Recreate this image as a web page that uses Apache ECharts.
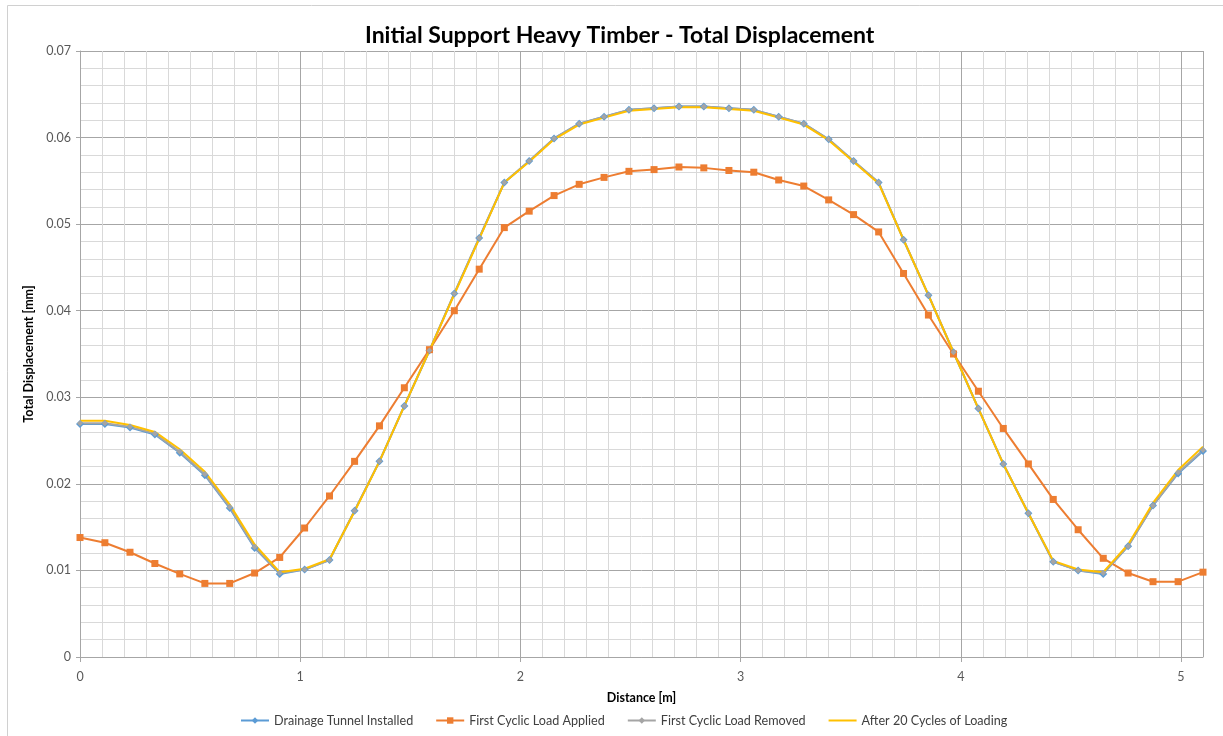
<!DOCTYPE html>
<html>
<head>
<meta charset="utf-8">
<script src="https://cdn.jsdelivr.net/npm/echarts@6/dist/echarts.min.js"></script>
<style>
  html, body { margin: 0; padding: 0; background: #fff; }
  #chart { width: 1223px; height: 736px; }
</style>
</head>
<body>
<div id="chart"></div>
<script>
// distance [m]
const distance = [
  0, 0.113, 0.227, 0.340, 0.453, 0.567, 0.680, 0.793, 0.907, 1.020,
  1.133, 1.247, 1.360, 1.473, 1.587, 1.700, 1.813, 1.927, 2.040, 2.153,
  2.267, 2.380, 2.493, 2.607, 2.720, 2.833, 2.947, 3.060, 3.173, 3.287,
  3.400, 3.513, 3.627, 3.740, 3.853, 3.967, 4.080, 4.193, 4.307, 4.420,
  4.533, 4.647, 4.760, 4.873, 4.987, 5.100
]

const seriesNames = [
  'Drainage Tunnel Installed',
  'First Cyclic Load Applied',
  'First Cyclic Load Removed',
  'After 20 Cycles of Loading'
]

const drainageInstalled = [
  0.0269, 0.0269, 0.0265, 0.0257, 0.0236, 0.0210, 0.0172, 0.0126, 0.0096, 0.0101,
  0.0112, 0.0169, 0.0226, 0.0290, 0.0354, 0.0420, 0.0484, 0.0548, 0.0573, 0.0599,
  0.0616, 0.0624, 0.0632, 0.0634, 0.0636, 0.0636, 0.0634, 0.0632, 0.0624, 0.0616,
  0.0598, 0.0573, 0.0548, 0.0482, 0.0418, 0.0352, 0.0287, 0.0223, 0.0166, 0.0110,
  0.0100, 0.0096, 0.0128, 0.0175, 0.0212, 0.0238
]

const loadApplied = [
  0.0138, 0.0132, 0.0121, 0.0108, 0.0096, 0.0085, 0.0085, 0.0097, 0.0115, 0.0149,
  0.0186, 0.0226, 0.0267, 0.0311, 0.0355, 0.0400, 0.0448, 0.0496, 0.0515, 0.0533,
  0.0546, 0.0554, 0.0561, 0.0563, 0.0566, 0.0565, 0.0562, 0.0560, 0.0551, 0.0544,
  0.0528, 0.0511, 0.0491, 0.0443, 0.0395, 0.0350, 0.0307, 0.0264, 0.0223, 0.0182,
  0.0147, 0.0114, 0.0097, 0.0087, 0.0087, 0.0098
]

const loadRemoved = [
  0.0270, 0.0270, 0.0266, 0.0258, 0.0237, 0.0211, 0.0173, 0.0127, 0.0097, 0.0101,
  0.0112, 0.0169, 0.0226, 0.0290, 0.0354, 0.0420, 0.0484, 0.0548, 0.0573, 0.0599,
  0.0616, 0.0624, 0.0632, 0.0634, 0.0636, 0.0636, 0.0634, 0.0632, 0.0624, 0.0616,
  0.0598, 0.0573, 0.0548, 0.0482, 0.0418, 0.0352, 0.0287, 0.0223, 0.0166, 0.0110,
  0.0100, 0.0097, 0.0128, 0.0175, 0.0213, 0.0239
]

const after20Cycles = [
  0.0273, 0.0273, 0.0268, 0.0260, 0.0240, 0.0214, 0.0176, 0.0130, 0.0098, 0.0102,
  0.0113, 0.0168, 0.0226, 0.0290, 0.0354, 0.0419, 0.0483, 0.0548, 0.0572, 0.0598,
  0.0615, 0.0623, 0.0631, 0.0633, 0.0635, 0.0635, 0.0633, 0.0631, 0.0623, 0.0615,
  0.0597, 0.0572, 0.0547, 0.0482, 0.0418, 0.0352, 0.0287, 0.0223, 0.0166, 0.0111,
  0.0101, 0.0098, 0.0130, 0.0178, 0.0216, 0.0243
]

const colors = ['#5B9BD5', '#ED7D31', '#A5A5A5', '#FFC000']
const font = 'Lato, "Liberation Sans", sans-serif'

const pairs = ys => distance.map((x, i) => [x, ys[i]])

const chart = echarts.init(document.getElementById('chart'))

chart.setOption({
  backgroundColor: '#fff',
  animation: false,
  textStyle: { fontFamily: font },
  color: colors,
  title: {
    text: 'Initial Support Heavy Timber - Total Displacement',
    left: 360, top: 19,
    textStyle: { fontSize: 23, fontWeight: 'bold', color: '#000', fontFamily: font }
  },
  graphic: [{
    type: 'rect', silent: true, z: -10,
    shape: { x: 7.5, y: 5.5, width: 1300, height: 800 },
    style: { fill: 'none', stroke: '#d0d0d0', lineWidth: 1 }
  }],
  legend: {
    data: [
      seriesNames[0], seriesNames[1], seriesNames[2],
      { name: seriesNames[3], itemStyle: { opacity: 0 } }
    ],
    left: 235, top: 709,
    itemWidth: 28, itemHeight: 8, itemGap: 22,
    textStyle: { fontSize: 12.6, color: '#404040', fontFamily: font }
  },
  grid: { left: 80, right: 20, top: 51, bottom: 79, containLabel: false },
  xAxis: [{
    // minor grid (0.1 m)
    type: 'value', position: 'top',
    min: 0, max: 5.1, interval: 0.1,
    axisLine: { show: false }, axisTick: { show: false }, axisLabel: { show: false },
    splitLine: { show: true, lineStyle: { color: '#d9d9d9', width: 1 } }
  }, {
    type: 'value', position: 'bottom',
    min: 0, max: 5.1, interval: 1,
    name: 'Distance [m]', nameLocation: 'middle', nameGap: 34,
    nameTextStyle: { fontSize: 12.5, fontWeight: 'bold', color: '#000', fontFamily: font },
    axisLine: { show: true, onZero: false, lineStyle: { color: '#a6a6a6' } },
    axisTick: { show: true, length: 5, lineStyle: { color: '#a6a6a6' } },
    axisLabel: { fontSize: 12.5, color: '#595959', margin: 13, showMaxLabel: false },
    splitLine: { show: true, lineStyle: { color: '#a6a6a6', width: 1 } }
  }],
  yAxis: {
    type: 'value', min: 0, max: 0.07, interval: 0.01,
    name: 'Total Displacement [mm]', nameLocation: 'middle', nameGap: 42, nameRotate: 90,
    nameTextStyle: { fontSize: 12.5, fontWeight: 'bold', color: '#000', fontFamily: font },
    axisLine: { show: true, lineStyle: { color: '#a6a6a6' } },
    axisTick: { show: true, length: 4, lineStyle: { color: '#a6a6a6' } },
    axisLabel: { fontSize: 12.5, color: '#595959', margin: 9, formatter: v => v === 0 ? '0' : v.toFixed(2) },
    splitLine: { show: true, lineStyle: { color: '#a6a6a6', width: 1 } },
    minorTick: { show: false, splitNumber: 5 },
    minorSplitLine: { show: true, lineStyle: { color: '#d9d9d9', width: 1 } }
  },
  series: [{
    name: seriesNames[0], type: 'line', xAxisIndex: 1,
    data: pairs(drainageInstalled),
    symbol: 'diamond', symbolSize: 8,
    lineStyle: { width: 2, color: colors[0] },
    itemStyle: { color: colors[0] }
  }, {
    name: seriesNames[1], type: 'line', xAxisIndex: 1,
    data: pairs(loadApplied),
    symbol: 'rect', symbolSize: 7,
    lineStyle: { width: 2, color: colors[1] },
    itemStyle: { color: colors[1] }
  }, {
    name: seriesNames[2], type: 'line', xAxisIndex: 1,
    data: pairs(loadRemoved),
    symbol: 'diamond', symbolSize: 6,
    lineStyle: { width: 2, color: colors[2] },
    itemStyle: { color: colors[2] }
  }, {
    name: seriesNames[3], type: 'line', xAxisIndex: 1,
    data: pairs(after20Cycles),
    symbol: 'none', showSymbol: false,
    lineStyle: { width: 2, color: colors[3] },
    itemStyle: { color: colors[3] }
  }]
})
</script>
</body>
</html>
